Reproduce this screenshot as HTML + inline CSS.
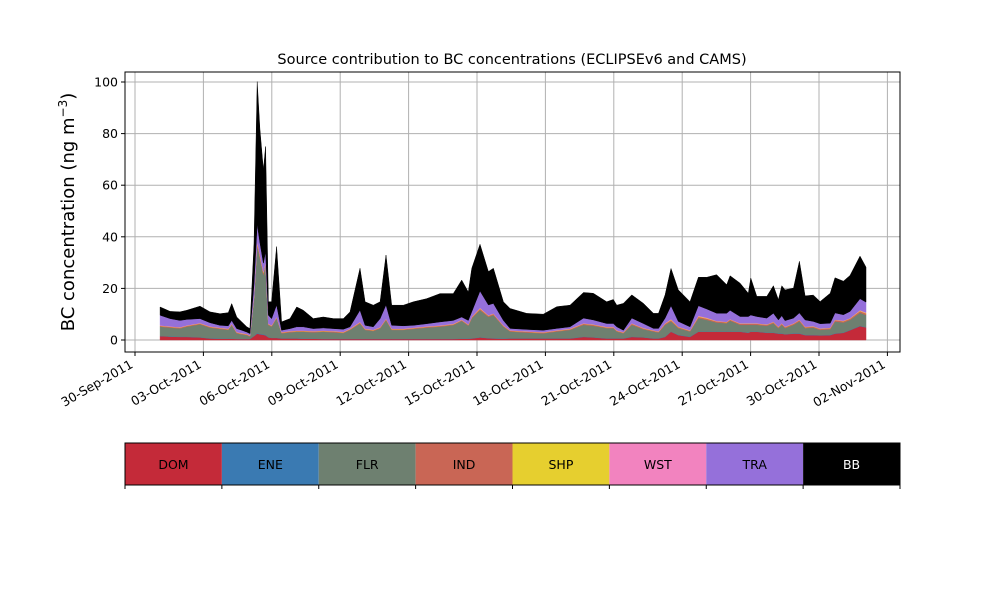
<!DOCTYPE html>
<html><head><meta charset="utf-8"><style>
body{margin:0;background:#fff;font-family:"Liberation Sans","DejaVu Sans",sans-serif}
svg text{font-family:"DejaVu Sans","Liberation Sans",sans-serif}
</style></head><body>
<svg id="chart" width="1000" height="600" xmlns="http://www.w3.org/2000/svg">
<rect width="1000" height="600" fill="#fff"/>
<text x="512" y="64" text-anchor="middle" font-size="14.5">Source contribution to BC concentrations (ECLIPSEv6 and CAMS)</text>
<text transform="translate(74,212) rotate(-90)" text-anchor="middle" font-size="18">BC concentration (ng m<tspan baseline-shift="super" font-size="12">−3</tspan>)</text>
<g id="grid"></g><g id="areas"></g><g id="axes"></g><g id="legend"></g>
</svg>
<script>
const dayOffset=[1.10,1.54,1.97,2.27,2.85,3.29,3.73,4.09,4.24,4.46,4.68,4.90,5.04,5.22,5.36,5.48,5.63,5.73,5.85,5.99,6.21,6.43,6.80,7.09,7.38,7.82,8.26,8.70,9.14,9.43,9.87,10.09,10.45,10.75,11.01,11.26,11.77,12.21,12.79,13.38,13.96,14.33,14.62,14.77,15.13,15.50,15.72,16.16,16.45,17.18,17.91,18.50,19.08,19.67,20.10,20.69,20.98,21.13,21.42,21.79,22.30,22.74,22.96,23.25,23.51,23.83,24.34,24.71,25.08,25.51,25.95,26.10,26.54,26.90,27.01,27.27,27.71,28.00,28.22,28.37,28.51,28.88,29.14,29.39,29.75,30.05,30.49,30.70,31.07,31.36,31.80,32.06];
const dom=[1.5,1.3,1.2,1.2,1.0,0.6,0.5,0.5,0.5,0.4,0.4,0.4,0.4,1.5,2.5,2.2,2.0,1.8,1.0,0.8,0.8,0.6,0.6,0.6,0.5,0.5,0.4,0.4,0.4,0.4,0.4,0.4,0.4,0.4,0.4,0.4,0.4,0.4,0.4,0.4,0.4,0.5,0.5,0.6,1.0,0.7,0.6,0.5,0.6,0.6,0.6,0.6,0.6,1.2,1.0,0.6,0.6,0.6,0.6,1.2,1.0,0.6,0.6,1.2,3.2,1.9,1.2,3.2,3.2,3.2,3.2,3.2,3.2,2.8,3.2,3.2,2.8,2.8,2.5,2.5,2.2,2.5,2.5,1.9,1.9,1.8,1.9,2.5,2.8,3.8,5.4,4.9];
const ene=[0.1,0.1,0.1,0.1,0.1,0.1,0.1,0.1,0.1,0.1,0.1,0.1,0.1,0.1,0.2,0.2,0.2,0.2,0.1,0.1,0.1,0.1,0.1,0.1,0.1,0.1,0.1,0.1,0.1,0.1,0.1,0.1,0.1,0.1,0.1,0.1,0.1,0.1,0.1,0.1,0.1,0.1,0.1,0.1,0.1,0.1,0.1,0.1,0.1,0.1,0.1,0.1,0.1,0.1,0.1,0.1,0.1,0.1,0.1,0.1,0.1,0.1,0.1,0.1,0.1,0.1,0.1,0.1,0.1,0.1,0.1,0.1,0.1,0.1,0.1,0.1,0.1,0.1,0.1,0.1,0.1,0.1,0.1,0.1,0.1,0.1,0.1,0.1,0.1,0.1,0.1,0.1];
const flr=[3.6,3.4,3.2,3.9,5.0,4.1,3.7,3.3,5.2,2.1,1.7,1.4,0.8,14.5,34.2,29.3,23.1,27.2,4.7,4.3,7.5,1.9,2.3,2.5,2.6,2.4,2.7,2.5,2.2,3.4,5.9,3.4,3.0,4.0,7.2,3.4,3.4,3.8,4.3,4.7,5.3,6.8,5.0,7.7,10.5,8.2,9.0,4.6,2.6,2.2,1.9,2.6,3.2,4.6,4.4,3.9,3.9,2.6,1.9,4.6,3.1,2.6,2.2,4.6,3.9,2.6,2.0,5.2,4.5,3.5,3.2,4.2,2.6,3.0,2.6,2.6,2.6,3.6,2.0,3.3,2.3,3.3,4.6,2.6,2.8,2.0,2.2,4.6,3.9,3.9,5.1,4.7];
const ind=[0.3,0.3,0.3,0.3,0.3,0.3,0.3,0.3,0.3,0.3,0.3,0.3,0.3,0.6,1.0,0.9,0.8,0.8,0.3,0.3,0.4,0.3,0.3,0.3,0.3,0.3,0.3,0.3,0.3,0.3,0.4,0.3,0.3,0.3,0.4,0.3,0.3,0.3,0.3,0.3,0.3,0.3,0.3,0.4,0.5,0.4,0.4,0.3,0.3,0.3,0.3,0.3,0.3,0.4,0.4,0.3,0.3,0.3,0.3,0.4,0.3,0.3,0.3,0.4,0.5,0.4,0.3,0.5,0.5,0.4,0.4,0.4,0.4,0.4,0.4,0.4,0.4,0.4,0.4,0.4,0.4,0.4,0.5,0.4,0.4,0.4,0.4,0.5,0.5,0.5,0.6,0.6];
const shp=[0.1,0.1,0.1,0.1,0.1,0.1,0.1,0.1,0.1,0.1,0.1,0.1,0.1,0.2,0.3,0.3,0.2,0.2,0.1,0.1,0.1,0.1,0.1,0.1,0.1,0.1,0.1,0.1,0.1,0.1,0.1,0.1,0.1,0.1,0.1,0.1,0.1,0.1,0.1,0.1,0.1,0.1,0.1,0.1,0.2,0.1,0.1,0.1,0.1,0.1,0.1,0.1,0.1,0.1,0.1,0.1,0.1,0.1,0.1,0.1,0.1,0.1,0.1,0.1,0.2,0.1,0.1,0.2,0.2,0.1,0.1,0.1,0.1,0.1,0.1,0.1,0.1,0.1,0.1,0.1,0.1,0.1,0.1,0.1,0.1,0.1,0.1,0.1,0.1,0.1,0.2,0.2];
const wst=[0.1,0.1,0.1,0.1,0.1,0.1,0.1,0.1,0.1,0.1,0.1,0.1,0.1,0.2,0.3,0.3,0.2,0.2,0.1,0.1,0.1,0.1,0.1,0.1,0.1,0.1,0.1,0.1,0.1,0.1,0.1,0.1,0.1,0.1,0.1,0.1,0.1,0.1,0.1,0.1,0.1,0.1,0.1,0.1,0.2,0.1,0.1,0.1,0.1,0.1,0.1,0.1,0.1,0.1,0.1,0.1,0.1,0.1,0.1,0.1,0.1,0.1,0.1,0.1,0.2,0.1,0.1,0.2,0.2,0.1,0.1,0.1,0.1,0.1,0.1,0.1,0.1,0.1,0.1,0.1,0.1,0.1,0.1,0.1,0.1,0.1,0.1,0.1,0.1,0.1,0.2,0.2];
const tra=[3.9,3.0,2.6,2.3,1.7,1.4,0.9,1.1,1.3,1.3,1.1,0.7,0.7,4.6,6.5,4.6,3.3,3.9,3.3,2.6,4.6,0.7,0.9,1.4,1.4,0.9,1.0,0.9,1.0,0.7,4.6,1.3,1.1,3.3,5.3,1.3,1.1,0.9,1.0,1.3,1.3,1.0,1.5,2.0,6.5,4.0,3.9,1.9,0.7,0.7,0.7,0.7,0.7,2.0,1.7,1.3,1.3,1.3,0.7,2.0,1.7,0.7,1.1,2.0,5.2,2.0,1.3,3.9,3.3,3.0,3.3,3.4,2.6,2.6,3.2,2.6,2.4,3.3,2.6,2.9,2.3,2.0,2.6,2.6,1.8,1.8,1.7,2.6,2.3,2.6,4.4,4.0];
const bb=[3.2,2.8,3.3,3.5,4.8,4.2,4.5,5.1,6.5,4.5,3.2,2.0,1.9,15.5,55.2,44.0,36.1,40.7,5.2,6.5,22.6,3.2,3.9,7.7,6.4,3.9,4.2,3.9,4.1,5.8,16.2,9.1,8.4,6.5,19.3,7.8,8.0,9.1,9.7,11.0,10.4,14.3,11.0,16.8,18.1,12.9,13.6,7.2,7.7,6.2,6.2,8.4,8.4,9.9,10.3,8.4,9.3,8.4,10.4,9.0,7.8,5.8,5.8,9.0,14.4,12.2,9.7,11.0,12.3,14.9,11.0,13.4,12.9,9.0,14.3,7.8,8.4,10.6,7.8,11.6,11.9,11.6,20.0,9.3,10.2,8.6,11.6,13.6,13.0,13.9,16.5,13.5];
const sourceNames=["DOM","ENE","FLR","IND","SHP","WST","TRA","BB"];
const sourceColors=["#c42a39","#3a7ab2","#6e8070","#c96655","#e6cf2f","#f283bf","#9570da","#000000"];
const yTicks=[0,20,40,60,80,100];
const xTickDays=[0,3,6,9,12,15,18,21,24,27,30,33];
const xTickLabels=["30-Sep-2011","03-Oct-2011","06-Oct-2011","09-Oct-2011","12-Oct-2011","15-Oct-2011","18-Oct-2011","21-Oct-2011","24-Oct-2011","27-Oct-2011","30-Oct-2011","02-Nov-2011"];

const NS="http://www.w3.org/2000/svg";
const L=125,R=900,T=72,B=352;
const xS=d=>135+d*22.8;
const yS=v=>340-v*2.58;
function mk(tag,attrs,parent){const e=document.createElementNS(NS,tag);for(const k in attrs)e.setAttribute(k,attrs[k]);parent.appendChild(e);return e;}
const grid=document.getElementById('grid'),areas=document.getElementById('areas'),axes=document.getElementById('axes'),leg=document.getElementById('legend');

xTickDays.forEach((d,i)=>{
  const x=xS(d);
  const g=mk('line',{x1:x,x2:x,y1:T,y2:B,stroke:'#b0b0b0','stroke-width':1},grid);
  
  
  const t=mk('line',{x1:x,x2:x,y1:B,y2:B+4,stroke:'#000','stroke-width':1},axes);
  
  
  const lx=x-4;
  const lb=mk('text',{x:lx,y:B+14,'text-anchor':'end','font-size':12.5,transform:`rotate(-30 ${lx+3} ${B+9})`},axes);
  lb.textContent=xTickLabels[i];
  
  
});
yTicks.forEach(v=>{
  const y=yS(v);
  const g=mk('line',{x1:L,x2:R,y1:y,y2:y,stroke:'#b0b0b0','stroke-width':1},grid);
  
  
  const t=mk('line',{x1:L-4,x2:L,y1:y,y2:y,stroke:'#000'},axes);
  
  
  const lb=mk('text',{x:L-7,y:y+4.5,'text-anchor':'end','font-size':12.5},axes);
  lb.textContent=v;
  
  
});

const series=[dom,ene,flr,ind,shp,wst,tra,bb];
const n=dayOffset.length;
let base=new Array(n).fill(0);
series.forEach((s,k)=>{
  const top=base.map((b,i)=>b+(s[i]||0));
  let d='M'+dayOffset.map((t,i)=>xS(t).toFixed(1)+','+yS(top[i]).toFixed(1)).join('L');
  for(let i=n-1;i>=0;i--)d+='L'+xS(dayOffset[i]).toFixed(1)+','+yS(base[i]).toFixed(1);
  d+='Z';
  const p=mk('path',{d:d,fill:sourceColors[k],stroke:sourceColors[k],'stroke-width':0.5},areas);
  
  
  base=top;
});
const frame=mk('rect',{x:L,y:T,width:R-L,height:B-T,fill:'none',stroke:'#000','stroke-width':1},axes);



const cw=(R-L)/sourceNames.length;
sourceNames.forEach((nm,i)=>{
  const x=L+i*cw;
  const r=mk('rect',{x:x,y:443,width:cw,height:42,fill:sourceColors[i]},leg);
  
  
  const t=mk('text',{x:x+cw/2,y:469,'text-anchor':'middle','font-size':12.5,fill:nm==='BB'?'#fff':'#000'},leg);
  t.textContent=nm;
  
  
});
for(let i=0;i<=sourceNames.length;i++){
  const x=L+i*cw;
  const tk=mk('line',{x1:x,x2:x,y1:485,y2:489,stroke:'#000'},leg);
  
  
}
const lf=mk('rect',{x:L,y:443,width:R-L,height:42,fill:'none',stroke:'#000','stroke-width':1},leg);


</script>
</body></html>
